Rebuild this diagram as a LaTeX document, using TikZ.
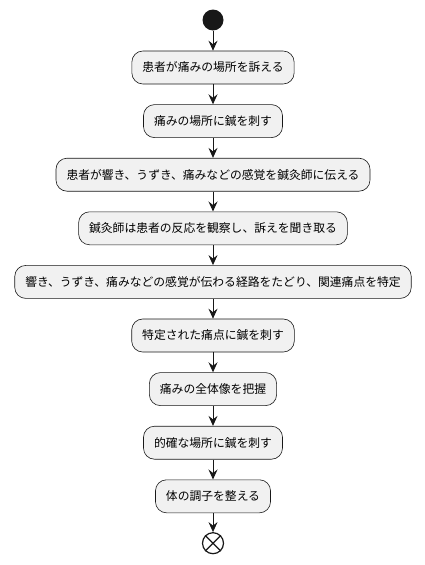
\documentclass[tikz,border=0pt]{standalone}
\usepackage{fontspec}
\newfontfamily\jpfont{Noto Sans CJK JP}
\usepackage{xcolor}
\usetikzlibrary{positioning,arrows.meta}
\definecolor{boxfill}{HTML}{F1F1F1}
\definecolor{lineclr}{HTML}{181818}

\begin{document}
\begin{tikzpicture}[x=1pt,y=1pt,node distance=20pt,>={Stealth[length=10pt,width=9pt,inset=3.5pt]},
  every node/.style={font=\jpfont\fontsize{11.8}{13}\selectfont},
  actbox/.style={draw=lineclr,fill=boxfill,line width=0.6pt,rounded corners=11pt,
    minimum height=33pt,inner xsep=10.5pt,inner ysep=0pt}]
  \useasboundingbox (0,0) rectangle (425,-565);
  % start and the chain of actions, top to bottom
  \node (start) [circle,fill=lineclr,minimum size=21pt,inner sep=0pt] at (213,-20) {};
  \node (a1) [actbox,below=of start] {患者が痛みの場所を訴える};
  \node (a2) [actbox,below=of a1] {痛みの場所に鍼を刺す};
  \node (a3) [actbox,below=of a2] {患者が響き、うずき、痛みなどの感覚を鍼灸師に伝える};
  \node (a4) [actbox,below=of a3] {鍼灸師は患者の反応を観察し、訴えを聞き取る};
  \node (a5) [actbox,below=of a4] {響き、うずき、痛みなどの感覚が伝わる経路をたどり、関連痛点を特定};
  \node (a6) [actbox,below=of a5] {特定された痛点に鍼を刺す};
  \node (a7) [actbox,below=of a6] {痛みの全体像を把握};
  \node (a8) [actbox,below=of a7] {的確な場所に鍼を刺す};
  \node (a9) [actbox,below=of a8] {体の調子を整える};
  \node (stop) [draw=lineclr,circle,line width=1.2pt,minimum size=21pt,inner sep=0pt,below=19pt of a9] {};
  \draw[lineclr,line width=1.2pt] (stop.north east) -- (stop.south west) (stop.north west) -- (stop.south east);

  \draw[->,lineclr,line width=0.9pt] (start) -- (a1);
  \draw[->,lineclr,line width=0.9pt] (a1) -- (a2);
  \draw[->,lineclr,line width=0.9pt] (a2) -- (a3);
  \draw[->,lineclr,line width=0.9pt] (a3) -- (a4);
  \draw[->,lineclr,line width=0.9pt] (a4) -- (a5);
  \draw[->,lineclr,line width=0.9pt] (a5) -- (a6);
  \draw[->,lineclr,line width=0.9pt] (a6) -- (a7);
  \draw[->,lineclr,line width=0.9pt] (a7) -- (a8);
  \draw[->,lineclr,line width=0.9pt] (a8) -- (a9);
  \draw[->,lineclr,line width=0.9pt] (a9) -- (stop);
\end{tikzpicture}
\end{document}
